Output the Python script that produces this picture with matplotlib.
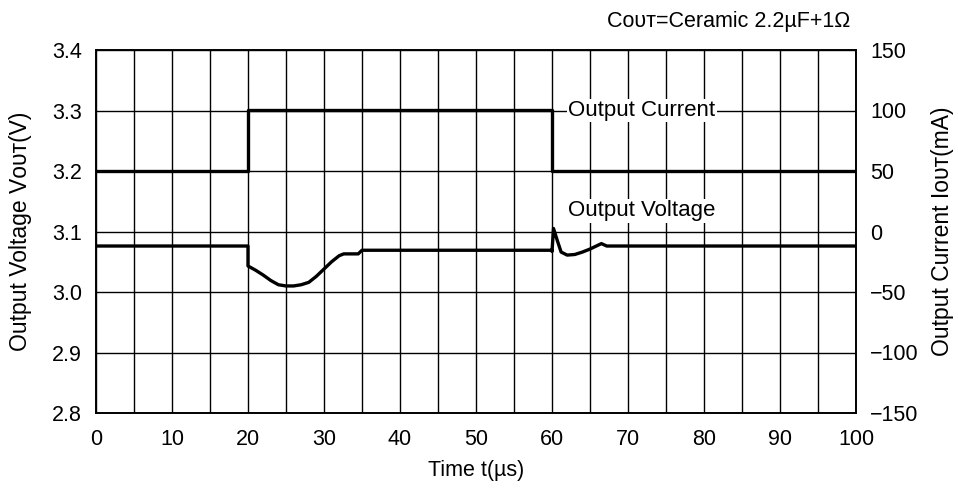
import matplotlib
matplotlib.use("Agg")
import matplotlib.pyplot as plt

plt.rcParams['font.family'] = ['Liberation Sans', 'DejaVu Sans']

# output current step (mA)
t_cur = [0, 20, 20, 60, 60, 100]
i_out = [50, 50, 100, 100, 50, 50]

# output voltage response (V)
t_volt = [0, 20, 20, 21, 22, 23, 24, 25, 26, 27, 28, 29, 30, 31, 32, 32.6,
          34.5, 35, 60, 60, 60.2, 60.7, 61.2, 62, 63, 64, 65, 66, 66.5, 67.2, 100]
v_out = [3.076, 3.076, 3.043, 3.036, 3.028, 3.019, 3.012, 3.010, 3.010, 3.012,
         3.016, 3.026, 3.038, 3.050, 3.060, 3.063, 3.063, 3.069, 3.069, 3.067,
         3.105, 3.085, 3.066, 3.061, 3.062, 3.066, 3.071, 3.077, 3.080, 3.076, 3.076]

x_ticks = list(range(0, 101, 10))
x_grid = list(range(0, 101, 5))
v_ticks = [2.8, 2.9, 3.0, 3.1, 3.2, 3.3, 3.4]
i_ticks = [-150, -100, -50, 0, 50, 100, 150]

fig = plt.figure(figsize=(9.58, 4.9), dpi=100)
ax = fig.add_axes([96 / 958, 1 - 413 / 490, 760 / 958, 363 / 490])
ax2 = ax.twinx()

ax.set_xlim(0, 100)
ax.set_ylim(2.8, 3.4)
ax2.set_ylim(-150, 150)

# grid
for x in x_grid:
    ax.axvline(x, color='black', lw=1.0, zorder=1)
for v in v_ticks:
    ax.axhline(v, color='black', lw=1.0, zorder=1)

ax.plot(t_volt, v_out, color='black', lw=2.4, zorder=3, solid_joinstyle='round')
ax2.plot(t_cur, i_out, color='black', lw=2.4, zorder=3)

ax.set_xticks(x_ticks)
ax.set_xticklabels([str(x) for x in x_ticks])
ax.set_yticks(v_ticks)
ax.set_yticklabels([f"{v:.1f}" for v in v_ticks])
ax2.set_yticks(i_ticks)
ax2.set_yticklabels([str(i).replace('-', '\u2212') for i in i_ticks])

for a in (ax, ax2):
    a.tick_params(axis='y', length=0, labelsize=15.5, pad=10)
    for s in a.spines.values():
        s.set_linewidth(1.2)
ax.tick_params(axis='x', length=0, labelsize=15.5, pad=11.5)

ax.set_xlabel("Time t(\u00b5s)", fontsize=15.5, labelpad=7)
ax.set_ylabel("Output Voltage V\u1d0f\u1d1c\u1d1b(V)", fontsize=16.5)
ax2.set_ylabel("Output Current I\u1d0f\u1d1c\u1d1b(mA)", fontsize=16.5)
ax.yaxis.set_label_coords(-0.0845, 0.5)
ax2.yaxis.set_label_coords(1.099, 0.5)

box = dict(facecolor='white', edgecolor='none', pad=1.0)
ax2.text(71.8, 100, "Output Current", fontsize=16, ha='center', va='center',
         bbox=box, zorder=5)
ax2.text(71.8, 17, "Output Voltage", fontsize=16, ha='center', va='center',
         bbox=box, zorder=5)

fig.text(850 / 958, 1 - 22 / 490, "C\u1d0f\u1d1c\u1d1b=Ceramic 2.2\u00b5F+1\u03a9",
         fontsize=15.5, ha='right', va='center')

fig.savefig("out.png", dpi=100, facecolor='white')
